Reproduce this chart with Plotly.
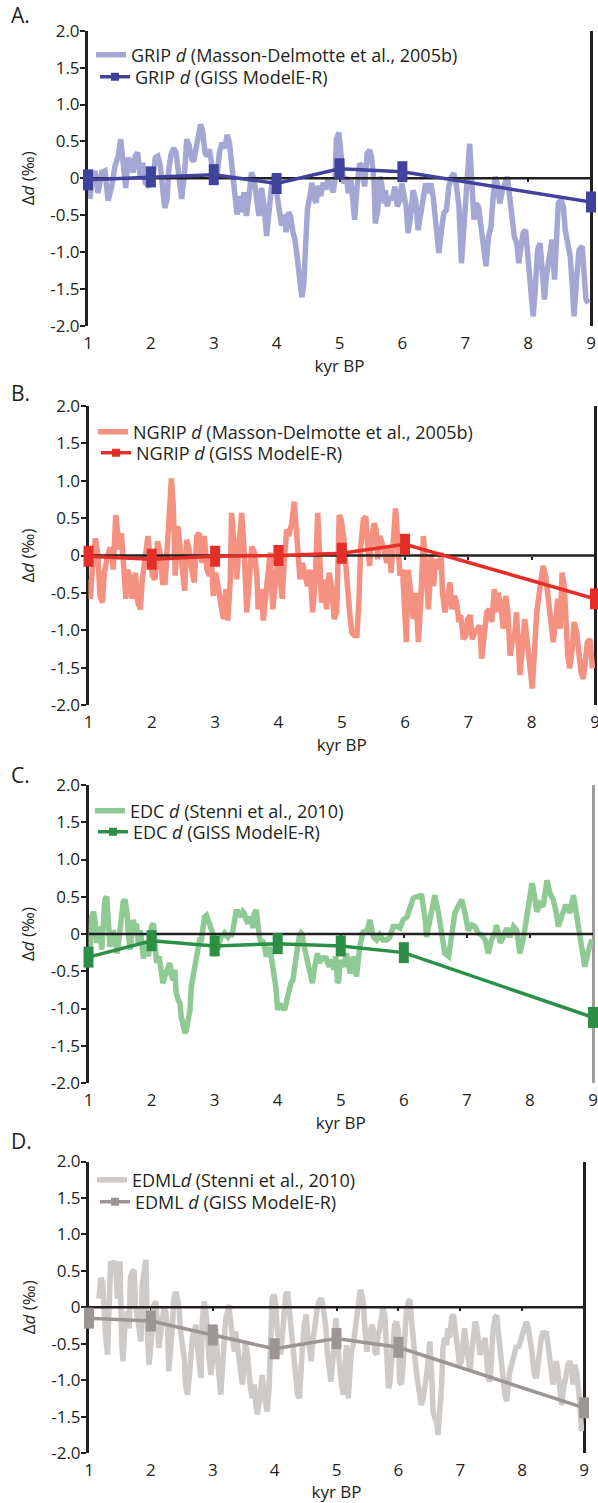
import plotly.graph_objects as go

W, H = 598, 1503
X_RANGE = [1, 9]
Y_RANGE = [-2, 2]
X_TICKS = [1, 2, 3, 4, 5, 6, 7, 8, 9]
Y_TICKS = [2, 1.5, 1, 0.5, 0, -0.5, -1, -1.5, -2]
Y_TICKTEXT = ["2.0", "1.5", "1.0", "0.5", "0", "-0.5", "-1.0", "-1.5", "-2.0"]
MODEL_KYR = [1, 2, 3, 4, 5, 6, 9]

# ---------------- A. GRIP ----------------
GRIP_KYR = [1.03, 1.07, 1.11, 1.16, 1.22, 1.27, 1.32, 1.38, 1.43, 1.48, 1.52, 1.56, 1.60, 1.64, 1.68, 1.72,
            1.75, 1.79, 1.83, 1.87, 1.91, 1.96, 2.02, 2.07, 2.11, 2.15, 2.19, 2.22, 2.26, 2.28, 2.32, 2.36,
            2.40, 2.44, 2.49, 2.54, 2.57, 2.61, 2.65, 2.68, 2.71, 2.75, 2.79, 2.82, 2.86, 2.89, 2.93, 2.97,
            3.02, 3.05, 3.09, 3.13, 3.18, 3.21, 3.25, 3.29, 3.34, 3.37, 3.41, 3.44, 3.48, 3.52, 3.56, 3.60,
            3.64, 3.68, 3.72, 3.76, 3.80, 3.84, 3.88, 3.92, 3.96, 3.99, 4.04, 4.08, 4.12, 4.15, 4.19, 4.22,
            4.26, 4.29, 4.33, 4.36, 4.40, 4.43, 4.46, 4.49, 4.53, 4.56, 4.60, 4.63, 4.66, 4.70, 4.74, 4.78,
            4.82, 4.86, 4.90, 4.93, 4.95, 4.99,
            5.04, 5.07, 5.11, 5.14, 5.18, 5.21, 5.24, 5.28, 5.32, 5.36, 5.40, 5.44, 5.48, 5.51, 5.55, 5.57,
            5.61, 5.64, 5.67, 5.71, 5.73, 5.76, 5.80, 5.84, 5.88, 5.92, 5.96, 5.99, 6.03, 6.06, 6.09, 6.13,
            6.17, 6.21, 6.25, 6.29, 6.33, 6.37, 6.41, 6.45, 6.49, 6.52, 6.56, 6.58, 6.63, 6.66, 6.70, 6.74,
            6.78, 6.82, 6.86, 6.90, 6.94, 6.98, 7.02, 7.05, 7.07, 7.10, 7.14, 7.17, 7.21, 7.25, 7.28, 7.33,
            7.37, 7.41, 7.44, 7.475, 7.51, 7.55, 7.59, 7.63, 7.67, 7.70, 7.74, 7.78, 7.82, 7.85, 7.88, 7.92,
            7.96, 8.01, 8.04, 8.08, 8.11, 8.15, 8.19, 8.22, 8.26, 8.29, 8.34, 8.38, 8.42, 8.44, 8.48, 8.52,
            8.56, 8.59, 8.63, 8.67, 8.70, 8.73, 8.77, 8.81, 8.86, 8.89, 8.92, 8.96]
GRIP_D = [-0.28, 0.00, 0.10, -0.20, 0.08, 0.10, -0.30, -0.10, 0.17, 0.30, 0.53, 0.26, -0.13, 0.28, 0.21, 0.08,
          0.30, 0.35, 0.03, 0.21, -0.06, -0.10, -0.08, 0.28, 0.30, 0.17, -0.15, -0.40, -0.28, 0.08, 0.32, 0.41,
          0.35, -0.01, -0.28, 0.12, 0.53, 0.44, 0.26, 0.23, 0.39, 0.53, 0.73, 0.66, 0.35, 0.30, 0.39, 0.19,
          0.03, -0.01, 0.35, 0.48, 0.41, 0.59, 0.48, 0.17, -0.28, -0.49, -0.24, -0.46, -0.19, -0.51, -0.24, 0.08,
          -0.01, -0.28, -0.51, -0.13, -0.37, -0.78, -0.37, -0.10, 0.03, -0.15, -0.42, -0.64, -0.49, -0.73, -0.46, -0.51,
          -0.73, -0.82, -1.09, -1.36, -1.61, -1.45, -0.87, -0.42, -0.24, -0.06, -0.28, -0.33, -0.10, -0.24, -0.06, -0.15,
          -0.01, -0.10, -0.19, -0.01, 0.53, 0.62,
          0.16, -0.07, 0.02, -0.20, -0.02, -0.29, -0.56, -0.11, 0.20, 0.16, -0.11, 0.34, 0.38, 0.29, -0.07, -0.61,
          -0.43, 0.02, -0.07, -0.34, -0.16, -0.38, -0.25, -0.29, -0.11, -0.38, -0.29, -0.07, -0.29, -0.38, -0.74, -0.52,
          -0.16, -0.29, -0.70, -0.52, -0.29, -0.07, -0.20, -0.07, -0.25, -0.47, -0.83, -1.01, -0.65, -0.47, -0.43, -0.11,
          0.02, 0.07, -0.11, -0.38, -1.15, -0.65, 0.02, 0.43, 0.47, 0.02, -0.56, -0.34, -0.38, -0.65, -0.88, -1.19,
          -0.79, -0.65, -0.29, 0.02, -0.07, -0.34, -0.16, -0.07, 0.02, -0.20, -0.52, -0.79, -0.88, -1.15, -0.97, -0.74,
          -0.70, -1.28, -1.55, -1.87, -1.55, -0.97, -0.88, -1.28, -1.64, -1.33, -0.97, -0.83, -1.37, -1.06, -0.34, -0.29,
          -0.38, -0.70, -0.88, -1.06, -1.42, -1.87, -1.37, -0.97, -0.92, -1.28, -1.64, -1.69]
GRIP_MODEL = [-0.02, 0.02, 0.05, -0.07, 0.13, 0.09, -0.32]

# ---------------- B. NGRIP ----------------
NGRIP_KYR = [1.00, 1.03, 1.06, 1.11, 1.15, 1.18, 1.22, 1.25, 1.29, 1.33, 1.37, 1.39, 1.43, 1.46, 1.49, 1.52,
             1.55, 1.59, 1.62, 1.66, 1.69, 1.74, 1.78, 1.82, 1.85, 1.89, 1.94, 1.97, 2.01, 2.05, 2.09, 2.13,
             2.17, 2.21, 2.25, 2.27, 2.31, 2.34, 2.37, 2.41, 2.45, 2.48, 2.52, 2.55, 2.59, 2.63, 2.67, 2.71,
             2.75, 2.79, 2.83, 2.87, 2.91, 2.94, 2.97, 3.01, 3.05, 3.09, 3.13, 3.17, 3.20, 3.24, 3.26, 3.31,
             3.34, 3.38, 3.42, 3.46, 3.50, 3.54, 3.58, 3.62, 3.66, 3.68, 3.73, 3.76, 3.80, 3.83, 3.87, 3.91,
             3.95, 3.99, 4.03, 4.06, 4.09, 4.13, 4.16, 4.21, 4.25, 4.27, 4.31, 4.34, 4.38, 4.42, 4.46, 4.50,
             4.54, 4.58, 4.62, 4.65, 4.68, 4.73, 4.76, 4.80, 4.84, 4.88, 4.92,
             4.96, 4.99, 5.03, 5.05, 5.09, 5.13, 5.16, 5.20, 5.24, 5.27, 5.30, 5.34, 5.38, 5.41, 5.44, 5.47,
             5.51, 5.54, 5.57, 5.60, 5.64, 5.67, 5.71, 5.75, 5.78, 5.82, 5.85, 5.88, 5.92, 5.96, 5.99, 6.02,
             6.05, 6.09, 6.13, 6.17, 6.21, 6.25, 6.29, 6.33, 6.37, 6.41, 6.45, 6.48, 6.53, 6.57, 6.59, 6.63,
             6.67, 6.71, 6.74, 6.78, 6.815, 6.85, 6.88, 6.92, 6.96, 6.99, 7.03, 7.06, 7.10, 7.15, 7.18, 7.21,
             7.25, 7.29, 7.33, 7.37, 7.41, 7.45, 7.47, 7.52, 7.55, 7.59, 7.62, 7.66, 7.69, 7.73, 7.76, 7.79,
             7.815, 7.85, 7.89, 7.93, 7.97, 8.01, 8.04, 8.08, 8.12, 8.16, 8.18, 8.22, 8.26, 8.29, 8.315, 8.34,
             8.38, 8.41, 8.45, 8.48, 8.515, 8.54, 8.57, 8.60, 8.64, 8.67, 8.71, 8.75, 8.78, 8.815, 8.84, 8.88,
             8.92, 8.96]
NGRIP_D = [-0.32, -0.58, -0.19, 0.23, -0.01, -0.54, -0.63, -0.23, -0.05, 0.08, 0.08, -0.19, 0.54, 0.35, 0.08, 0.30,
           -0.14, -0.58, -0.19, -0.32, -0.58, -0.23, -0.63, -0.72, -0.32, -0.05, 0.26, -0.01, -0.27, -0.32, 0.19, 0.04,
           -0.36, -0.36, 0.17, 0.70, 1.03, 0.65, -0.27, 0.39, 0.08, -0.19, -0.47, 0.21, 0.08, -0.19, -0.36, 0.26,
           0.30, -0.10, 0.26, -0.19, -0.27, -0.01, -0.54, -0.23, -0.45, -0.63, -0.85, -0.45, -0.87, -0.32, 0.57, 0.04,
           -0.32, 0.17, 0.57, 0.04, -0.76, -0.32, 0.12, 0.04, -0.27, -0.72, -0.45, -0.87, -0.54, -0.19, 0.04, -0.72,
           -0.41, -0.05, -0.32, -0.58, -0.10, 0.35, 0.26, 0.43, 0.72, 0.48, 0.12, -0.32, -0.10, -0.23, -0.41, -0.19,
           -0.76, -0.36, 0.57, 0.04, -0.63, -0.32, -0.72, -0.23, -0.41, -0.85, -0.76,
           0.54, 0.48, 0.26, -0.05, -0.41, -0.81, -1.03, -1.07, -1.07, -0.63, 0.12, 0.48, 0.52, 0.12, -0.14, 0.21,
           0.43, 0.35, -0.05, 0.26, 0.17, 0.08, -0.10, 0.12, -0.23, 0.26, 0.63, 0.26, -0.27, -0.19, -0.63, -1.16,
           -0.19, -0.63, -0.85, -0.50, -1.16, -0.58, 0.26, -0.23, -0.72, -0.01, -0.41, -0.05, -0.19, 0.04, -0.50, -0.76,
           -0.54, -0.36, -0.72, -0.54, -0.63, -0.89, -0.80, -1.12, -1.07, -0.85, -0.80, -1.12, -1.03, -0.98, -0.94, -1.38,
           -1.07, -0.76, -0.72, -0.89, -0.45, -0.76, -0.50, -0.72, -0.98, -0.54, -0.72, -1.34, -1.16, -1.07, -0.76, -1.16,
           -1.60, -1.25, -0.85, -1.16, -1.51, -1.78, -1.34, -0.76, -0.50, -0.19, -0.14, -0.27, -0.54, -0.72, -0.89, -1.16,
           -0.85, -0.58, -0.98, -0.23, -0.41, -0.85, -1.34, -1.51, -1.25, -0.89, -1.03, -1.34, -1.56, -1.65, -1.38, -1.16,
           -1.12, -1.51]
NGRIP_MODEL = [-0.01, -0.05, -0.01, 0.00, 0.03, 0.15, -0.58]

# ---------------- C. EDC ----------------
EDC_KYR = [1.00, 1.03, 1.05, 1.08, 1.11, 1.13, 1.16, 1.18, 1.21, 1.24, 1.26, 1.29, 1.32, 1.34, 1.37, 1.39,
           1.42, 1.45, 1.47, 1.50, 1.53, 1.55, 1.58, 1.61, 1.63, 1.66, 1.68, 1.71, 1.74, 1.76, 1.79, 1.82,
           1.84, 1.87, 1.89, 1.92, 1.95, 1.97, 2.00, 2.03, 2.05, 2.08, 2.12, 2.15, 2.18, 2.21, 2.24, 2.26,
           2.29, 2.32, 2.34, 2.37, 2.39, 2.42, 2.45, 2.47, 2.50, 2.53, 2.55, 2.58, 2.61, 2.63, 2.66, 2.68,
           2.71, 2.74, 2.76, 2.79, 2.82, 2.84, 2.87, 2.89, 2.92, 2.95, 2.97, 3.00, 3.03, 3.05, 3.08, 3.11,
           3.13, 3.16, 3.18, 3.21, 3.24, 3.26, 3.29, 3.32, 3.34, 3.37, 3.39, 3.42, 3.45, 3.47, 3.50, 3.53,
           3.55, 3.58, 3.61, 3.63, 3.66, 3.68, 3.71, 3.74, 3.76, 3.79, 3.82, 3.84, 3.87, 3.89, 3.92, 3.95,
           3.97, 4.00, 4.03, 4.05, 4.08, 4.11, 4.13, 4.16, 4.18, 4.21, 4.24, 4.26, 4.29, 4.32, 4.34, 4.37,
           4.39, 4.42, 4.45, 4.47, 4.50, 4.53, 4.55, 4.58, 4.61, 4.63, 4.66, 4.68, 4.71, 4.74, 4.76, 4.79,
           4.82, 4.84, 4.87, 4.89, 4.92, 4.95, 4.97,
           4.99, 5.04, 5.09, 5.15, 5.20, 5.25, 5.30, 5.36, 5.41, 5.46, 5.52, 5.57, 5.62, 5.67, 5.73, 5.78,
           5.83, 5.89, 5.94, 5.99, 6.05, 6.10, 6.15, 6.20, 6.26, 6.28, 6.31, 6.34, 6.36, 6.39, 6.44, 6.49,
           6.55, 6.60, 6.65, 6.71, 6.76, 6.81, 6.86, 6.92, 6.97, 7.02, 7.08, 7.13, 7.18, 7.23, 7.29, 7.34,
           7.39, 7.45, 7.47, 7.53, 7.58, 7.63, 7.68, 7.74, 7.79, 7.82, 7.84, 7.90, 7.95, 8.00, 8.03, 8.05,
           8.11, 8.16, 8.21, 8.24, 8.27, 8.32, 8.37, 8.42, 8.45, 8.50, 8.56, 8.61, 8.63, 8.69, 8.74, 8.79,
           8.85, 8.87, 8.93, 8.98, 9.00]
EDC_D = [-0.04, -0.17, 0.23, 0.30, 0.14, -0.12, -0.04, 0.10, -0.21, 0.28, 0.46, 0.50, 0.19, -0.17, -0.08, 0.05,
         -0.04, -0.26, -0.17, 0.05, 0.23, 0.43, 0.46, 0.28, 0.01, -0.21, -0.04, 0.19, 0.08, 0.14, -0.12, 0.05,
         -0.08, -0.33, -0.26, -0.10, -0.30, -0.15, 0.10, 0.14, -0.21, -0.39, -0.30, -0.48, -0.66, -0.57, -0.48, -0.44,
         -0.39, -0.57, -0.62, -0.48, -0.79, -0.88, -0.93, -1.11, -1.24, -1.33, -1.29, -1.15, -1.02, -0.71, -0.57, -0.48,
         -0.39, -0.17, -0.08, -0.08, 0.05, 0.23, 0.25, 0.19, 0.14, 0.05, 0.01, -0.17, -0.12, -0.21, -0.08, 0.01,
         -0.04, 0.01, -0.01, -0.04, 0.01, -0.04, 0.05, 0.28, 0.30, 0.30, 0.28, 0.23, 0.30, 0.28, 0.19, 0.14,
         0.23, 0.19, 0.08, 0.28, 0.32, 0.10, -0.04, -0.12, -0.08, -0.17, -0.30, -0.26, -0.17, -0.26, -0.44, -0.57,
         -0.71, -1.02, -0.93, -0.98, -0.98, -1.02, -0.93, -0.84, -0.71, -0.66, -0.62, -0.48, -0.35, -0.21, -0.04, 0.01,
         -0.01, -0.17, -0.30, -0.39, -0.48, -0.62, -0.66, -0.48, -0.35, -0.26, -0.39, -0.35, -0.30, -0.35, -0.30, -0.39,
         -0.44, -0.35, -0.39, -0.48, -0.30, -0.66, -0.62,
         -0.35, -0.44, -0.26, -0.53, -0.30, -0.57, -0.17, 0.05, 0.01, 0.19, -0.04, -0.08, -0.01, -0.08, -0.08, -0.04,
         0.10, 0.10, 0.08, 0.19, 0.23, 0.37, 0.48, 0.50, 0.50, 0.54, 0.37, 0.19, -0.04, 0.10, 0.32, 0.52,
         0.28, -0.04, -0.26, -0.30, 0.05, 0.28, 0.37, 0.46, 0.28, 0.05, 0.12, 0.10, 0.01, -0.01, -0.08, -0.26,
         -0.08, 0.03, 0.12, -0.12, -0.04, 0.08, -0.04, 0.10, 0.05, -0.17, -0.26, -0.04, 0.19, 0.50, 0.68, 0.63,
         0.30, 0.41, 0.37, 0.54, 0.72, 0.54, 0.46, 0.28, 0.10, 0.23, 0.37, 0.37, 0.28, 0.52, 0.28, 0.01,
         -0.30, -0.44, -0.21, -0.08, -0.15]
EDC_MODEL = [-0.31, -0.09, -0.16, -0.13, -0.16, -0.25, -1.12]

# ---------------- D. EDML ----------------
EDML_KYR = [1.16, 1.19, 1.22, 1.24, 1.27, 1.30, 1.32, 1.35, 1.38, 1.40, 1.43, 1.46, 1.49, 1.50, 1.53, 1.55,
            1.58, 1.62, 1.65, 1.67, 1.70, 1.73, 1.75, 1.78, 1.81, 1.84, 1.86, 1.89, 1.92, 1.94, 1.97, 2.00,
            2.02, 2.05, 2.08, 2.11, 2.13, 2.16, 2.19, 2.21, 2.24, 2.27, 2.29, 2.32, 2.35, 2.37, 2.40, 2.43,
            2.46, 2.48, 2.51, 2.54, 2.56, 2.59, 2.62, 2.64, 2.67, 2.70, 2.73, 2.75, 2.78, 2.81, 2.83, 2.86,
            2.89, 2.91, 2.94, 2.97, 2.99, 3.02, 3.05, 3.08, 3.10, 3.13, 3.16, 3.18, 3.21, 3.24, 3.26, 3.29,
            3.32, 3.35, 3.37, 3.40, 3.43, 3.45, 3.48, 3.51, 3.53, 3.56, 3.59, 3.61, 3.64, 3.67, 3.70, 3.72,
            3.75, 3.78, 3.80, 3.83, 3.86, 3.88, 3.91, 3.94, 3.96, 3.99, 4.02, 4.04, 4.07, 4.10, 4.13, 4.15,
            4.18, 4.21, 4.24, 4.26, 4.29, 4.32, 4.34, 4.37, 4.40, 4.42, 4.45, 4.48, 4.51, 4.53, 4.56, 4.59,
            4.61, 4.64, 4.67, 4.69, 4.72, 4.75, 4.77, 4.80, 4.83, 4.85, 4.88, 4.91, 4.94, 4.96, 4.99, 5.02,
            5.05, 5.08, 5.11, 5.14, 5.16, 5.19, 5.22, 5.24, 5.27, 5.30, 5.32, 5.35, 5.38, 5.40, 5.43, 5.46,
            5.49, 5.51, 5.54, 5.57, 5.59, 5.62, 5.65, 5.67, 5.70, 5.73, 5.75, 5.78, 5.81, 5.84, 5.86, 5.89,
            5.92, 5.94, 5.97, 6.00, 6.02, 6.05, 6.08, 6.10, 6.13, 6.16, 6.19, 6.21, 6.24, 6.27, 6.29, 6.32,
            6.35, 6.37, 6.40, 6.43, 6.45, 6.48, 6.51, 6.54, 6.56, 6.59, 6.62, 6.64, 6.67, 6.70, 6.72, 6.75,
            6.78, 6.80, 6.83, 6.86, 6.89, 6.91, 6.94, 6.97, 6.99, 7.02, 7.05, 7.07, 7.10, 7.13, 7.16, 7.18,
            7.21, 7.24, 7.26, 7.29, 7.32, 7.34, 7.37, 7.40, 7.42, 7.45, 7.48, 7.50, 7.53, 7.56, 7.59, 7.61,
            7.64, 7.67, 7.69, 7.72, 7.75, 7.77, 7.80, 7.83, 7.85, 7.88, 7.91, 7.94, 7.96, 7.99, 8.02, 8.04,
            8.07, 8.10, 8.12, 8.15, 8.18, 8.20, 8.23, 8.26, 8.29, 8.31, 8.34, 8.37, 8.39, 8.42, 8.45, 8.47,
            8.50, 8.53, 8.55, 8.58, 8.61, 8.64, 8.66, 8.69, 8.72, 8.74, 8.77, 8.80, 8.82, 8.85, 8.88, 8.91,
            8.93, 8.96]
EDML_D = [0.12, 0.40, 0.35, -0.20, -0.42, -0.65, -0.06, 0.63, 0.58, 0.63, 0.58, 0.12, 0.44, 0.63, -0.52, -0.74,
          -0.24, -0.06, -0.29, 0.40, 0.49, 0.51, 0.03, -0.15, -0.42, -0.47, 0.31, 0.49, 0.65, -0.29, -0.79, -0.52,
          -0.29, 0.03, 0.08, -0.20, -0.56, -0.33, -0.06, -0.01, -0.06, -0.29, -0.88, -0.61, -0.24, 0.12, 0.21, 0.12,
          -0.06, -0.33, -0.52, -0.70, -1.06, -1.20, -0.97, -0.70, -0.42, -0.33, -0.24, -0.52, -0.74, -0.97, -0.20, 0.08,
          -0.06, -0.42, -0.70, -0.93, -0.79, -0.52, -0.29, -0.74, -1.06, -1.20, -0.79, -0.33, -0.15, -0.06, 0.03, -0.20,
          -0.52, -0.61, -0.33, -0.56, -0.74, -0.88, -1.06, -0.74, -0.47, -0.65, -0.97, -1.11, -1.25, -1.06, -1.34, -1.47,
          -1.29, -1.11, -0.93, -1.20, -1.43, -1.43, -1.11, -0.52, 0.12, 0.17, 0.03, -0.29, -0.52, -0.65, -0.33, -0.06,
          0.17, 0.21, -0.06, -0.24, -0.42, -0.74, -0.97, -1.20, -1.25, -0.88, -0.56, -0.24, -0.10, -0.33, -0.61, -0.74,
          -0.52, -0.29, -0.15, -0.01, 0.08, 0.12, 0.08, -0.06, -0.29, -0.61, -0.88, -1.02, -0.74, -0.33, -0.15, -0.52,
          -0.88, -1.06, -1.20, -0.88, -0.52, -1.25, -0.79, -0.61, -0.52, -0.33, -0.20, 0.08, 0.21, 0.21, 0.08, -0.29,
          -0.61, -0.47, -0.29, -0.24, -0.29, -0.61, -0.65, -0.38, -0.29, -0.06, -0.01, -0.10, -0.52, -1.11, -1.06, -0.74,
          -0.42, -0.24, -0.20, -0.33, -1.02, -1.06, -0.74, -0.29, -0.06, 0.08, 0.10, -0.15, -0.52, -0.70, -0.88, -1.06,
          -1.20, -1.34, -1.25, -1.11, -0.97, -0.74, -0.47, -0.97, -1.43, -1.52, -1.57, -1.75, -1.43, -1.06, -0.56, -0.42,
          -0.52, -0.29, -0.42, -0.15, -0.10, -0.24, -0.42, -0.61, -0.79, -0.74, -0.42, -0.29, -0.52, -0.79, -0.88, -0.65,
          -0.33, -0.20, -0.24, -0.42, -0.65, -0.61, -0.52, -0.42, -0.61, -0.97, -1.02, -0.61, -0.33, -0.15, -0.11, -0.29,
          -0.52, -0.74, -1.06, -1.20, -1.29, -1.06, -0.88, -0.79, -0.70, -0.61, -0.52, -0.56, -0.52, -0.42, -0.33, -0.24,
          -0.20, -0.29, -0.47, -0.56, -0.79, -0.93, -0.97, -0.74, -0.47, -0.42, -0.33, -0.38, -0.33, -0.52, -0.74, -0.97,
          -1.06, -0.88, -0.74, -0.88, -1.11, -1.34, -1.16, -0.97, -0.84, -0.79, -0.74, -0.84, -1.06, -0.79, -0.88, -1.11,
          -1.29, -1.70]
EDML_MODEL = [-0.15, -0.19, -0.38, -0.57, -0.43, -0.55, -1.38]

PANELS = [
    dict(label="A.", kyr=GRIP_KYR, proxy=GRIP_D, model=GRIP_MODEL,
         proxy_name="GRIP <i>d</i> (Masson-Delmotte et al., 2005b)",
         model_name="GRIP <i>d</i> (GISS ModelE-R)",
         proxy_color="#A4A6D3", model_color="#40439B", right_color="#231F20",
         box=(88, 591, 30.7, 326), label_y=15, legend_rows=(55, 77), legend_text_x=(133, 137)),
    dict(label="B.", kyr=NGRIP_KYR, proxy=NGRIP_D, model=NGRIP_MODEL,
         proxy_name="NGRIP <i>d</i> (Masson-Delmotte et al., 2005b)",
         model_name="NGRIP <i>d</i> (GISS ModelE-R)",
         proxy_color="#F49180", model_color="#E42E27", right_color="#231F20",
         box=(88.5, 595, 406, 705), label_y=393, legend_rows=(432, 453), legend_text_x=(135, 138)),
    dict(label="C.", kyr=EDC_KYR, proxy=EDC_D, model=EDC_MODEL,
         proxy_name="EDC <i>d</i> (Stenni et al., 2010)",
         model_name="EDC <i>d</i> (GISS ModelE-R)",
         proxy_color="#8FCA94", model_color="#2B8F46", right_color="#A29D9B",
         box=(88.5, 593, 785, 1083), label_y=775, legend_rows=(811, 832), legend_text_x=(132, 135)),
    dict(label="D.", kyr=EDML_KYR, proxy=EDML_D, model=EDML_MODEL,
         proxy_name="EDML<i>d</i> (Stenni et al., 2010)",
         model_name="EDML <i>d</i> (GISS ModelE-R)",
         proxy_color="#CDCAC8", model_color="#9B9694", right_color="#231F20",
         box=(89, 584, 1161.5, 1453), label_y=1141, legend_rows=(1180, 1202), legend_text_x=(134, 137)),
]

FONT = "Open Sans, Lato, DejaVu Sans, sans-serif"
INK = "#231F20"
LEGEND_TEXT_OFFSET = 42   # px from legend left edge to its text

fig = go.Figure()
layout = dict(width=W, height=H, margin=dict(l=0, r=0, t=0, b=0, autoexpand=False),
              paper_bgcolor="white", plot_bgcolor="rgba(0,0,0,0)", hovermode=False,
              font=dict(family=FONT, size=16, color=INK), annotations=[], showlegend=True)


def legend_name(n):
    return "legend" if n == 1 else f"legend{n}"


for i, p in enumerate(PANELS):
    a = 2 * i + 1          # main axes index (proxy + zero line)
    b = 2 * i + 2          # overlay axes index (model)
    xa, ya = f"x{a}", f"y{a}"
    xb, yb = f"x{b}", f"y{b}"
    lg1, lg2 = legend_name(2 * i + 1), legend_name(2 * i + 2)
    x0, x1, ytop, ybot = p["box"]
    dom_x = [x0 / W, x1 / W]
    dom_y = [1 - ybot / H, 1 - ytop / H]

    # proxy record
    fig.add_trace(go.Scatter(x=p["kyr"], y=p["proxy"], mode="lines", name=p["proxy_name"],
                             line=dict(color=p["proxy_color"], width=5.5), legend=lg1,
                             xaxis=xa, yaxis=ya, hoverinfo="skip"))
    # zero reference line
    fig.add_trace(go.Scatter(x=X_RANGE, y=[0, 0], mode="lines", showlegend=False,
                             line=dict(color=INK, width=2.5), xaxis=xa, yaxis=ya, hoverinfo="skip"))
    # model (rectangular markers drawn as thick vertical line symbols)
    fig.add_trace(go.Scatter(x=MODEL_KYR, y=p["model"], mode="lines+markers", showlegend=False,
                             line=dict(color=p["model_color"], width=3.5),
                             marker=dict(symbol="line-ns", size=15, color=p["model_color"],
                                         line=dict(width=10, color=p["model_color"])),
                             cliponaxis=False, xaxis=xb, yaxis=yb))
    # legend entry for the model series
    fig.add_trace(go.Scatter(x=[None], y=[None], mode="lines+markers", name=p["model_name"],
                             line=dict(color=p["model_color"], width=3.5),
                             marker=dict(symbol="square", size=8, color=p["model_color"]),
                             legend=lg2, xaxis=xb, yaxis=yb))

    layout[f"xaxis{a}"] = dict(domain=dom_x, anchor=ya, range=X_RANGE, showline=False, showgrid=False,
                               zeroline=False, ticks="", tickvals=X_TICKS, tickfont=dict(size=17),
                               ticklabeloverflow="allow", ticklabelstandoff=5, automargin=False,
                               title=dict(text="kyr BP", font=dict(size=17), standoff=0))
    layout[f"yaxis{a}"] = dict(domain=dom_y, anchor=xa, range=Y_RANGE, showline=True, linewidth=3,
                               linecolor=INK, showgrid=False, zeroline=False, ticks="outside",
                               ticklen=5, tickwidth=2, tickcolor=INK, tickvals=Y_TICKS,
                               ticktext=Y_TICKTEXT, tickfont=dict(size=17), automargin=False,
                               ticklabelstandoff=-3, layer="below traces",
                               title=dict(text="Δ<i>d</i> (‰)", font=dict(size=17), standoff=12))
    # small ticks on the zero line
    layout[f"xaxis{b}"] = dict(overlaying=xa, anchor="free", position=(dom_y[0] + dom_y[1]) / 2,
                               range=X_RANGE, showline=False, showgrid=False, zeroline=False,
                               ticks="outside", ticklen=3, tickwidth=2, tickcolor=INK,
                               tickvals=X_TICKS[1:-1], showticklabels=False, automargin=False,
                               layer="below traces")
    # right-hand boundary line
    layout[f"yaxis{b}"] = dict(overlaying=ya, anchor="free", position=dom_x[1], side="right",
                               range=Y_RANGE, showline=True, linewidth=2.5, linecolor=p["right_color"],
                               showgrid=False, zeroline=False, ticks="", showticklabels=False,
                               automargin=False, layer="below traces")

    for lg, row_y, tx in zip((lg1, lg2), p["legend_rows"], p["legend_text_x"]):
        layout[lg] = dict(x=(tx - LEGEND_TEXT_OFFSET) / W, y=1 - row_y / H, xanchor="left",
                          yanchor="middle", bgcolor="rgba(0,0,0,0)", font=dict(size=18),
                          itemwidth=30, borderwidth=0)

    layout["annotations"].append(dict(text=p["label"], xref="paper", yref="paper", x=9 / W,
                                      y=1 - p["label_y"] / H, xanchor="left", yanchor="middle",
                                      showarrow=False, font=dict(size=21)))

fig.update_layout(**layout)
fig.write_html("out.html", config={"displayModeBar": False},
               post_script="document.body.style.margin='0px';document.body.style.overflow='hidden';")
